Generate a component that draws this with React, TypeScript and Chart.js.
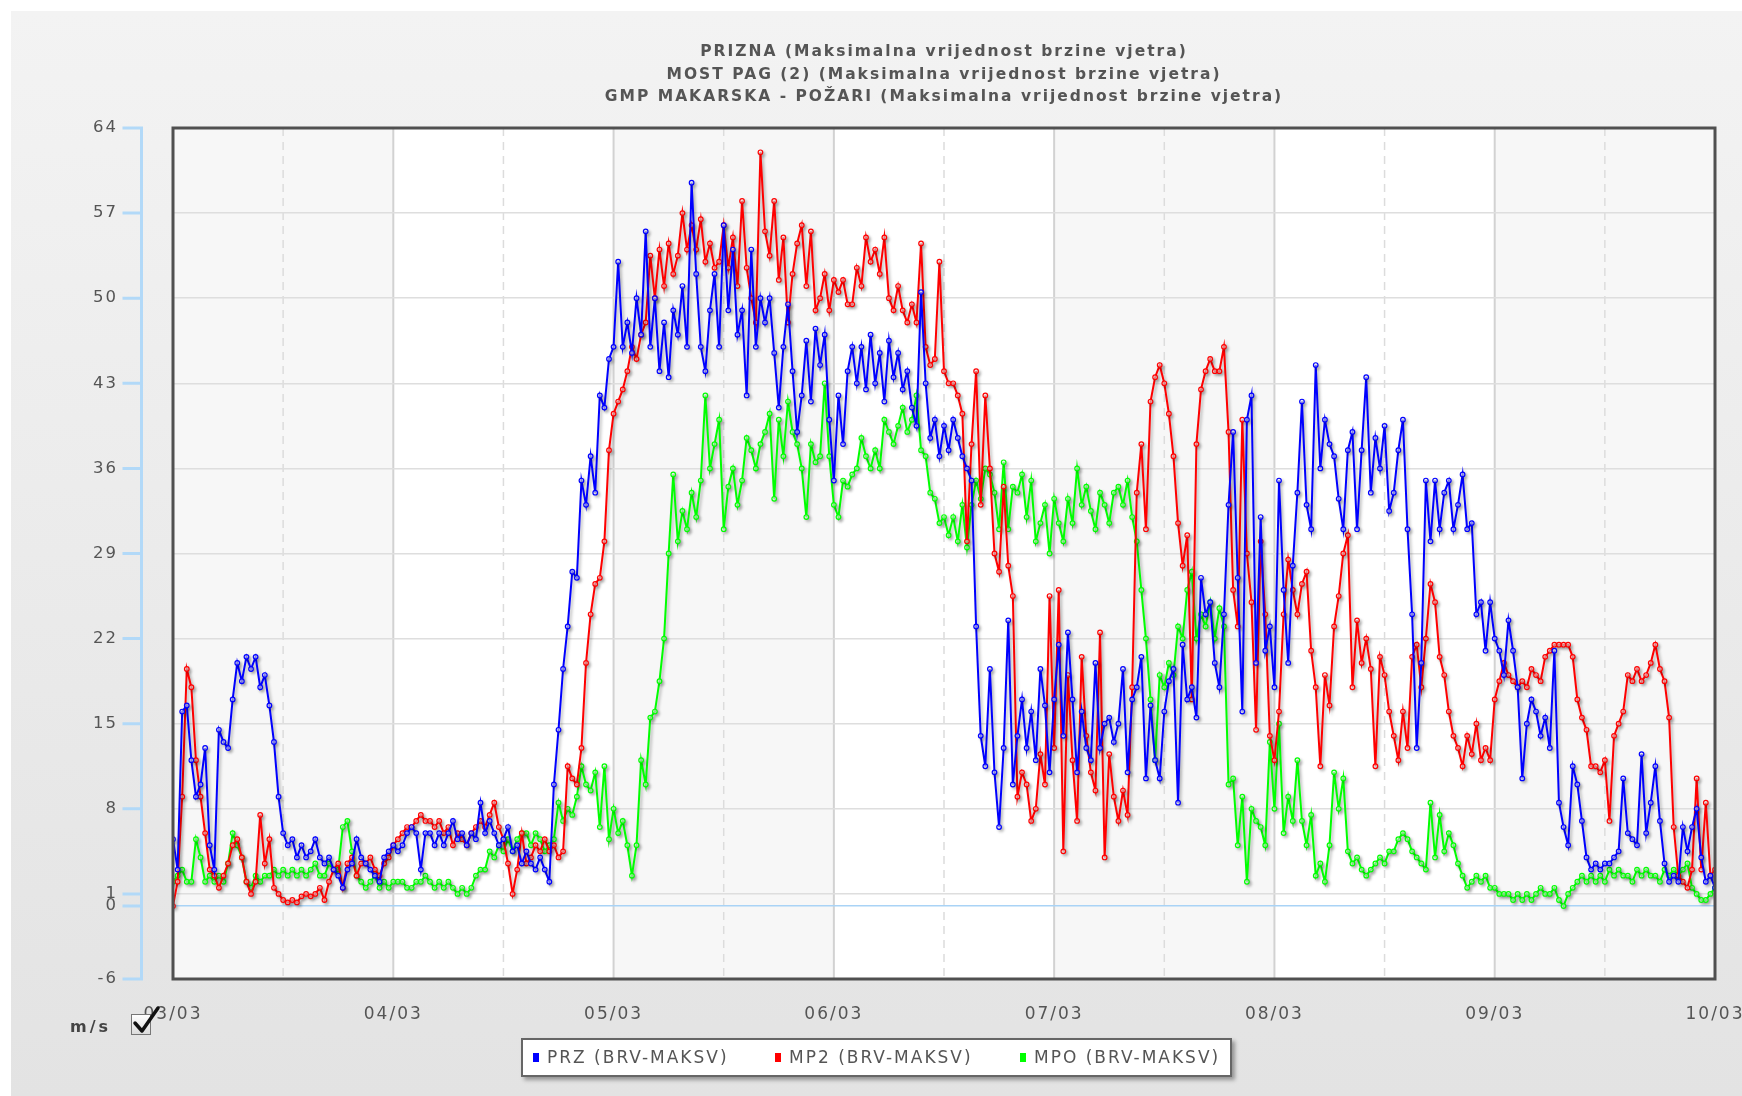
import React, { useEffect, useRef } from "react";
import { Chart, registerables } from "chart.js";

Chart.register(...registerables);

const CANVAS_W = 1742;
const CANVAS_H = 1096;
const FONT = "'DejaVu Sans', Verdana, sans-serif";

const titleLines = [
  "PRIZNA (Maksimalna vrijednost brzine vjetra)",
  "MOST PAG (2) (Maksimalna vrijednost brzine vjetra)",
  "GMP MAKARSKA - POŽARI (Maksimalna vrijednost brzine vjetra)",
];
const dayLabels = ["03/03", "04/03", "05/03", "06/03", "07/03", "08/03", "09/03", "10/03"];
const yTickValues = [-6, 0, 1, 8, 15, 22, 29, 36, 43, 50, 57, 64];
const seriesLabels = ["PRZ (BRV-MAKSV)", "MP2 (BRV-MAKSV)", "MPO (BRV-MAKSV)"];
const seriesColors = ["#0000ff", "#ff0000", "#00ff00"];
const unitLabel = "m/s";
const sampleStepHours = 0.5;

// PRIZNA, one reading every 30 minutes from 03/03 00:00 to 10/03 00:00
const przValues = [
  5.5, 3, 16, 16.5, 12, 9, 10, 13, 5, 3, 14.5, 13.5, 13, 17, 20, 18.5, 20.5, 19.5, 20.5, 18,
  19, 16.5, 13.5, 9, 6, 5, 5.5, 4, 5, 4, 4.5, 5.5, 4, 3.5, 4, 3, 2.5, 1.5, 3, 3.5,
  5.5, 4, 3.5, 3, 2.5, 2, 4, 4.5, 5,
  4.5, 5, 6, 6.5, 6, 3, 6, 6,
  5, 6, 5, 6, 7, 5.5, 6, 5, 6, 5.5, 8.5, 6, 7, 6, 5, 5.5, 6.5, 4.5, 5, 3.5,
  4.5, 3.5, 3, 4, 3, 2, 10, 14.5, 19.5, 23, 27.5, 27, 35, 33, 37, 34, 42, 41, 45, 46,
  53, 46, 48, 45.5, 50, 47, 55.5, 46, 50, 44, 48, 43.5, 49, 47, 51, 46, 59.5,
  52, 46, 44, 49, 52, 46, 56, 49, 54, 47, 49, 42, 54, 46, 50, 48, 50, 45.5, 41, 46,
  49.5, 44, 39, 42, 46.5, 41.5, 47.5, 44.5, 47, 40, 35, 42, 38, 44, 46, 43, 46, 42.5, 47, 43,
  45.5, 41.5, 46.5, 43.5, 45.5, 42.5, 44, 41, 39.5, 50.5, 43, 38.5, 40, 37, 39.5, 37.5,
  40, 38.5, 37, 36, 35, 23, 14, 11.5, 19.5, 11, 6.5, 13, 23.5, 10, 14, 17, 13, 16, 12, 19.5,
  16.5, 11, 17, 21.5, 14, 22.5, 17, 11, 16, 13, 12, 20, 13, 15, 15.5, 13.5, 15, 19.5, 11, 17,
  18, 20.5, 10.5, 16.5, 12, 10.5, 16, 18.5, 19.5, 8.5, 21.5, 17, 18, 15.5, 27, 24, 25, 20,
  18, 24, 33, 39, 27, 16, 40, 42, 20, 32, 21, 23, 18, 35, 26, 20, 28, 34, 41.5, 33,
  31, 44.5, 36, 40, 38, 37, 33.5, 31, 37.5, 39, 31, 37.5, 43.5, 34, 38.5, 36, 39.5, 32.5, 34, 37.5,
  40, 31, 24, 13, 20, 35, 30, 35, 31, 34, 35, 31, 33, 35.5, 31, 31.5,
  24, 25, 21, 25, 22, 21, 19, 23.5, 21, 18, 10.5, 15, 17, 16, 14, 15.5, 13, 21, 8.5, 6.5,
  5, 11.5, 10, 7, 4, 3, 3.5, 3, 3.5, 3.5, 4, 4.5, 10.5, 6, 5.5, 5, 12.5, 6, 8.5, 11.5,
  7, 3.5, 2, 2.5, 2, 6.5, 4.5, 6.5, 8, 4, 2, 2.5, 1.5,
];

// MOST PAG (2)
const mp2Values = [
  0, 2, 9, 19.5, 18, 12, 9, 6, 3, 2.5, 1.5, 2.5, 3.5, 5, 5.5, 4, 2, 1, 2, 7.5,
  3.5, 5.5, 1.5, 1, 0.5, 0.3, 0.5, 0.3, 0.8, 1, 0.8, 1, 1.5, 0.5, 2, 3, 3.5, 1.5, 3.5, 4,
  2.5, 3.5, 3.5, 4, 3, 2.5, 3.5, 4, 5,
  5.5, 6, 6.5, 6.5, 7, 7.5, 7, 7,
  6.5, 7, 6, 6.5, 5, 6, 5.5, 5, 6, 6.5, 7, 6.5, 7.5, 8.5, 6.5, 5.5, 3.5, 1, 3, 6,
  3.5, 4, 5, 4.5, 5.5, 4.5, 5, 4, 4.5, 11.5, 10.5, 10, 13, 20, 24, 26.5, 27, 30, 37.5, 40.5,
  41.5, 42.5, 44, 46, 45, 47, 48, 53.5, 50, 54, 51, 54.5, 52, 53.5, 57, 54, 56,
  54, 56.5, 53, 54.5, 52.5, 53, 56, 52.5, 55, 51, 58, 52.5, 50, 48, 62, 55.5, 53.5, 58, 51.5, 55,
  48, 52, 54.5, 56, 51, 55.5, 49, 50, 52, 49, 51.5, 50.5, 51.5, 49.5, 49.5, 52.5, 51, 55, 53, 54,
  52, 55, 50, 49, 51, 49, 48, 49.5, 48, 54.5, 46, 44.5, 45, 53, 44, 43,
  43, 42, 40.5, 30, 38, 44, 33, 42, 36, 29, 27.5, 34.5, 28, 25.5, 9, 11, 10, 7, 8, 12.5,
  10, 25.5, 13, 26, 4.5, 19, 12, 7, 20.5, 14, 11, 9.5, 22.5, 4, 12.5, 9, 7, 9.5, 7.5, 18,
  34, 38, 31, 41.5, 43.5, 44.5, 43, 40.5, 37, 31.5, 28, 30.5, 17, 38, 42.5, 44, 45, 44,
  44, 46, 39, 26, 23, 40, 29, 25, 14.5, 30, 24, 14, 12, 16, 24, 28.5, 26, 24, 26.5, 27.5,
  21, 18, 11.5, 19, 16.5, 23, 25.5, 29, 30.5, 18, 23.5, 20, 22, 19.5, 11.5, 20.5, 19, 16, 14, 12,
  16, 13, 20.5, 21.5, 18, 22, 26.5, 25, 20.5, 19, 16, 14, 13, 11.5, 14, 12.5,
  15, 12, 13, 12, 17, 18.5, 20, 19, 18.5, 18, 18.5, 18, 19.5, 19, 18.5, 20.5, 21, 21.5, 21.5, 21.5,
  21.5, 20.5, 17, 15.5, 14.5, 11.5, 11.5, 11, 12, 7, 14, 15, 16, 19, 18.5, 19.5, 18.5, 19, 20, 21.5,
  19.5, 18.5, 15.5, 6.5, 2.5, 2, 1.5, 3, 10.5, 3, 8.5, 2.5, 3,
];

// GMP MAKARSKA - POŽARI
const mpoValues = [
  2, 2.5, 3, 2, 2, 5.5, 4, 2, 2.5, 2, 2.5, 2, 3.5, 6, 5, 4, 2, 1.5, 2.5, 2,
  2.5, 2.5, 3, 2.5, 3, 2.5, 3, 2.5, 3, 2.5, 3, 3.5, 2.5, 2.5, 3.5, 3, 3, 6.5, 7, 4.5,
  2.5, 2, 1.5, 2, 2.5, 1.5, 2, 1.5, 2,
  2, 2, 1.5, 1.5, 2, 2, 2.5, 2,
  1.5, 2, 1.5, 2, 1.5, 1, 1.5, 1, 1.5, 2.5, 3, 3, 4.5, 4, 5, 4.5, 5.5, 4.5, 5.5, 6,
  6, 5, 6, 5.5, 4.5, 5, 5.5, 8.5, 7, 8, 7.5, 9, 11.5, 10, 9.5, 11, 6.5, 11.5, 5.5, 8,
  6, 7, 5, 2.5, 5, 12, 10, 15.5, 16, 18.5, 22, 29, 35.5, 30, 32.5, 31, 34,
  32, 35, 42, 36, 38, 40, 31, 34.5, 36, 33, 35, 38.5, 37.5, 36, 38, 39, 40.5, 33.5, 40, 37,
  41.5, 39, 38, 36, 32, 38, 36.5, 37, 43, 37, 33, 32, 35, 34.5, 35.5, 36, 38.5, 37, 36, 37.5,
  36, 40, 39, 38, 39.5, 41, 39, 40, 42, 37.5, 37, 34, 33.5, 31.5, 32, 30.5,
  32, 30, 33, 29.5, 33, 35, 33.5, 36, 35.5, 34, 31, 36.5, 31, 34.5, 34, 35.5, 32, 35, 30, 31.5,
  33, 29, 33.5, 31.5, 30, 33.5, 31.5, 36, 33, 34.5, 32.5, 31, 34, 33, 31.5, 34, 34.5, 33, 35, 32,
  30, 26, 22, 17, 12, 19, 18, 20, 19, 23, 22, 26, 27.5, 22, 24, 23, 25, 22,
  24.5, 23, 10, 10.5, 5, 9, 2, 8, 7, 6.5, 5, 13.5, 8, 15, 6, 9, 7, 12, 7, 5,
  7.5, 2.5, 3.5, 2, 5, 11, 8, 10.5, 4.5, 3.5, 4, 3, 2.5, 3, 3.5, 4, 3.5, 4.5, 4.5, 5.5,
  6, 5.5, 4.5, 4, 3.5, 3, 8.5, 4, 7.5, 4.5, 6, 5, 3.5, 2.5, 1.5, 2,
  2.5, 2, 2.5, 1.5, 1.5, 1, 1, 1, 0.5, 1, 0.5, 1, 0.5, 1, 1.5, 1, 1, 1.5, 0.5, 0,
  1, 1.5, 2, 2.5, 2, 2.5, 2, 2.5, 2, 3, 2.5, 3, 2.5, 2.5, 2, 3, 2.5, 3, 2.5, 2.5,
  2, 3, 2.5, 3, 2.5, 3, 3.5, 1.5, 1, 0.5, 0.5, 1, 1.5,
];

const seriesValues = [przValues, mp2Values, mpoValues];
const HOURS_PER_DAY = 24;
const maxHour = (dayLabels.length - 1) * HOURS_PER_DAY;

const backdropPlugin = {
  id: "backdrop",
  beforeDraw(chart: any) {
    const { ctx, chartArea: a, scales } = chart;
    const xs = scales.x;
    ctx.save();
    ctx.fillStyle = "#ffffff";
    ctx.fillRect(0, 0, chart.width, chart.height);
    const g = ctx.createLinearGradient(0, 11, 0, chart.height);
    g.addColorStop(0, "#f3f3f3");
    g.addColorStop(1, "#e3e3e3");
    ctx.fillStyle = g;
    ctx.fillRect(11, 11, chart.width - 11, chart.height - 11);
    for (let d = 0; d < dayLabels.length - 1; d++) {
      const x0 = xs.getPixelForValue(d * HOURS_PER_DAY);
      const x1 = xs.getPixelForValue((d + 1) * HOURS_PER_DAY);
      ctx.fillStyle = d % 2 === 0 ? "#f7f7f7" : "#ffffff";
      ctx.fillRect(x0, a.top, x1 - x0, a.bottom - a.top);
    }
    ctx.strokeStyle = "#d2d2d2";
    ctx.lineWidth = 2;
    for (let d = 1; d < dayLabels.length - 1; d++) {
      const px = xs.getPixelForValue(d * HOURS_PER_DAY);
      ctx.beginPath();
      ctx.moveTo(px, a.top);
      ctx.lineTo(px, a.bottom);
      ctx.stroke();
    }
    ctx.setLineDash([8, 6]);
    ctx.strokeStyle = "#dcdcdc";
    ctx.lineWidth = 1.5;
    for (let d = 0; d < dayLabels.length - 1; d++) {
      const px = xs.getPixelForValue(d * HOURS_PER_DAY + HOURS_PER_DAY / 2);
      ctx.beginPath();
      ctx.moveTo(px, a.top);
      ctx.lineTo(px, a.bottom);
      ctx.stroke();
    }
    ctx.restore();
    (ctx as any).letterSpacing = "2px";
  },
};

const shadowPlugin = {
  id: "lineShadow",
  beforeDatasetsDraw(chart: any) {
    const c = chart.ctx;
    c.save();
    c.shadowColor = "rgba(0,0,0,0.28)";
    c.shadowBlur = 3;
    c.shadowOffsetX = 2;
    c.shadowOffsetY = 2;
  },
  afterDatasetsDraw(chart: any) {
    chart.ctx.restore();
  },
};

const framePlugin = {
  id: "frame",
  afterDraw(chart: any) {
    const { ctx, chartArea: a, scales } = chart;
    const ys = scales.y;
    ctx.save();
    ctx.strokeStyle = "#505050";
    ctx.lineWidth = 3;
    ctx.strokeRect(a.left, a.top, a.right - a.left, a.bottom - a.top);
    const axisX = a.left - 31.5;
    ctx.strokeStyle = "#b2d9f8";
    ctx.lineWidth = 3;
    ctx.beginPath();
    ctx.moveTo(axisX, ys.getPixelForValue(yTickValues[yTickValues.length - 1]) - 1.5);
    ctx.lineTo(axisX, ys.getPixelForValue(yTickValues[0]) + 1.5);
    for (const t of yTickValues) {
      const py = ys.getPixelForValue(t);
      ctx.moveTo(axisX - 19, py);
      ctx.lineTo(axisX, py);
    }
    ctx.stroke();
    ctx.restore();
  },
};

export default function App() {
  const canvasRef = useRef<HTMLCanvasElement | null>(null);

  useEffect(() => {
    const canvas = canvasRef.current;
    if (!canvas) return;
    const datasets = seriesValues.map((vals, si) => ({
      label: seriesLabels[si],
      data: vals.map((y, i) => ({ x: i * sampleStepHours, y })),
      borderColor: seriesColors[si],
      backgroundColor: seriesColors[si],
      borderWidth: 2,
      pointRadius: 2.3,
      pointBorderWidth: 1.2,
      pointBorderColor: seriesColors[si],
      pointBackgroundColor: "rgba(255,255,255,0.55)",
      tension: 0,
      fill: false,
    }));
    const chart = new Chart(canvas, {
      type: "line",
      data: { datasets },
      options: {
        responsive: false,
        animation: false,
        devicePixelRatio: 1,
        events: [],
        layout: { padding: { left: 0, right: 27, top: 0, bottom: 0 } },
        plugins: {
          legend: { display: false },
          tooltip: { enabled: false },
          title: {
            display: true,
            fullSize: false,
            text: titleLines,
            color: "#555555",
            font: { family: FONT, size: 15.5, weight: "bold", lineHeight: 22.5 / 15.5 },
            padding: { top: 40.75, bottom: 19.75 },
          },
        },
        scales: {
          x: {
            type: "linear",
            min: 0,
            max: maxHour,
            afterBuildTicks: (s: any) => {
              s.ticks = dayLabels.map((_, i) => ({ value: i * HOURS_PER_DAY }));
            },
            afterFit: (s: any) => {
              s.height = 117;
              s.paddingLeft = 0;
              s.paddingRight = 0;
            },
            grid: { display: false },
            border: { display: false },
            ticks: {
              autoSkip: false,
              maxRotation: 0,
              padding: 17,
              color: "#555555",
              font: { family: FONT, size: 17 },
              callback: (v: any) => dayLabels[Math.round(Number(v) / HOURS_PER_DAY)] ?? "",
            },
          },
          y: {
            type: "linear",
            min: yTickValues[0],
            max: yTickValues[yTickValues.length - 1],
            afterBuildTicks: (s: any) => {
              s.ticks = yTickValues.map((v) => ({ value: v }));
            },
            afterFit: (s: any) => {
              s.width = 173;
              s.paddingTop = 0;
              s.paddingBottom = 0;
            },
            grid: {
              drawTicks: false,
              lineWidth: 1.5,
              color: (c: any) => (c.tick && c.tick.value === 0 ? "#a9d3f6" : "#dedede"),
            },
            border: { display: false },
            ticks: {
              padding: 55,
              color: "#555555",
              font: { family: FONT, size: 16.5 },
              callback: (v: any) => String(v),
            },
          },
        },
      },
      plugins: [backdropPlugin, shadowPlugin, framePlugin],
    } as any);
    return () => chart.destroy();
  }, []);

  const legendLefts = [533, 775, 1020];

  return (
    <div
      style={{
        position: "fixed",
        left: 0,
        top: 0,
        width: CANVAS_W,
        height: CANVAS_H,
        overflow: "hidden",
      }}
    >
      <canvas
        ref={canvasRef}
        width={CANVAS_W}
        height={CANVAS_H}
        style={{ display: "block", width: CANVAS_W, height: CANVAS_H }}
      />
      <div
        style={{
          position: "absolute",
          left: 70,
          top: 1017,
          font: `bold 16px ${FONT}`,
          letterSpacing: "3px",
          lineHeight: "20px",
          color: "#444444",
        }}
      >
        {unitLabel}
      </div>
      <div
        style={{
          position: "absolute",
          left: 131,
          top: 1014,
          width: 20,
          height: 21,
          boxSizing: "border-box",
          border: "1px solid #777777",
          background: "linear-gradient(#ffffff, #dcdcdc)",
        }}
      />
      <svg
        style={{ position: "absolute", left: 128, top: 1002, overflow: "visible" }}
        width={36}
        height={36}
      >
        <polyline
          points="7,21 14,29 30,6"
          fill="none"
          stroke="#111111"
          strokeWidth={3.5}
          strokeLinecap="round"
          strokeLinejoin="round"
        />
      </svg>
      <div
        style={{
          position: "absolute",
          left: 521,
          top: 1038,
          width: 711,
          height: 39,
          boxSizing: "border-box",
          border: "2px solid #666666",
          background: "#ffffff",
          boxShadow: "3px 3px 4px rgba(0,0,0,0.35)",
        }}
      />
      {seriesLabels.map((lab, i) => (
        <div
          key={lab}
          style={{
            position: "absolute",
            left: legendLefts[i],
            top: 1047,
            height: 20,
            display: "flex",
            alignItems: "center",
            whiteSpace: "nowrap",
          }}
        >
          <span
            style={{
              display: "inline-block",
              width: 6,
              height: 9,
              background: seriesColors[i],
              marginRight: 8,
            }}
          />
          <span
            style={{
              font: `17px ${FONT}`,
              letterSpacing: "2px",
              lineHeight: "20px",
              color: "#555555",
            }}
          >
            {lab}
          </span>
        </div>
      ))}
    </div>
  );
}
